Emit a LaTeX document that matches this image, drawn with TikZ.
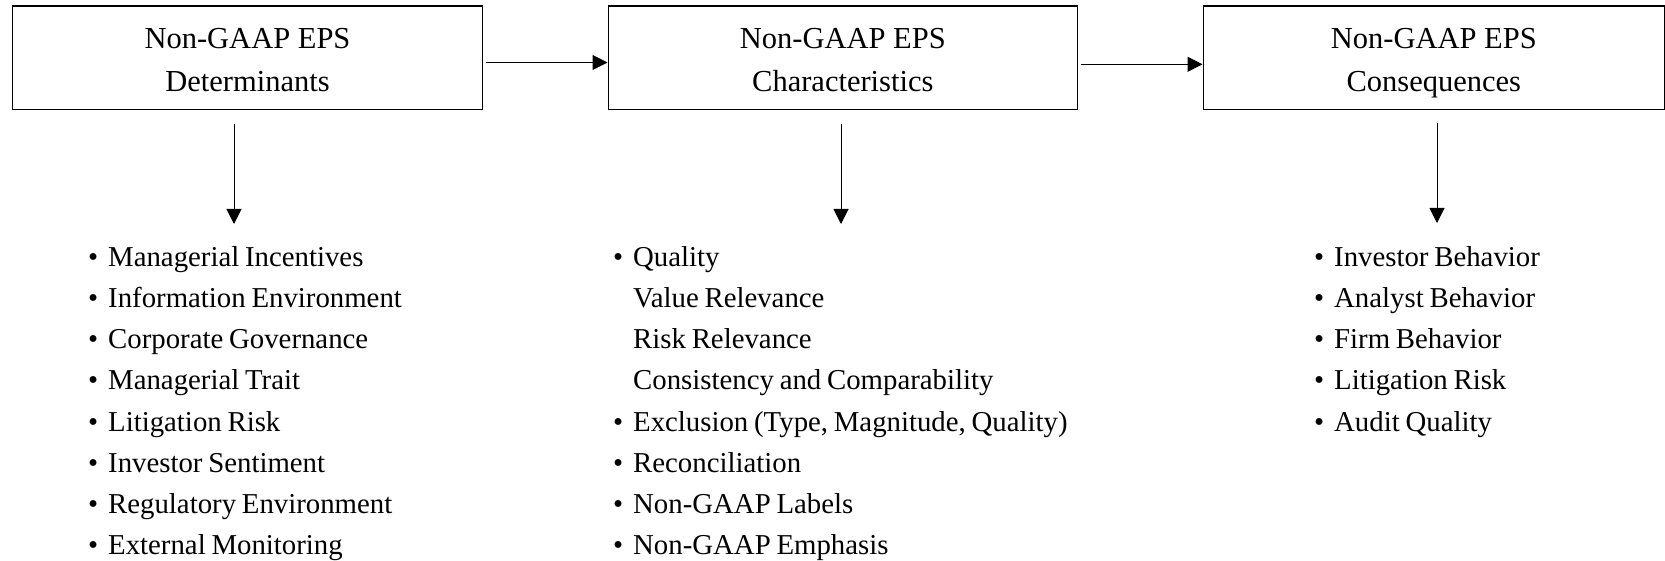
\documentclass[tikz,border=0pt]{standalone}
\usepackage{fontspec}
\setmainfont{Liberation Serif}
\newfontfamily\listfont[WordSpace=0.8]{Liberation Serif}
\usetikzlibrary{arrows.meta}
\begin{document}
\begin{tikzpicture}[x=1pt,y=-1pt,
  box/.style={draw,line width=1.6pt,inner sep=0pt,align=center,
    text height=68pt,text depth=0pt,
    font=\fontsize{30.5}{43}\selectfont},
  arr/.style={line width=1pt,-{Triangle[length=15pt,width=15pt]}},
  item/.style={inner sep=0pt,anchor=base west,font=\listfont\fontsize{28.8}{41}\selectfont}]
\useasboundingbox (0,0) rectangle (1665,561);
% boxes
\node[box,minimum width=470pt,minimum height=103.5pt] (b1) at (247.5,57.75) {Non-GAAP EPS\\Determinants};
\node[box,minimum width=469pt,minimum height=103.5pt] (b2) at (842.8,57.75) {Non-GAAP EPS\\Characteristics};
\node[box,minimum width=461pt,minimum height=103.5pt] (b3) at (1433.8,57.75) {Non-GAAP EPS\\Consequences};
% horizontal arrows
\coordinate (h1s) at (486,62.5);
\coordinate (h2s) at (1080.7,64.3);
\draw[arr] (h1s) -- (b2.west |- h1s);
\draw[arr] (h2s) -- (b3.west |- h2s);
% vertical arrows
\coordinate (v1s) at (234,124);  \coordinate (v1e) at (234,224);
\coordinate (v2s) at (841,124);  \coordinate (v2e) at (841,224);
\coordinate (v3s) at (1437,123); \coordinate (v3e) at (1437,223);
\draw[arr] (v1s) -- (v1e);
\draw[arr] (v2s) -- (v2e);
\draw[arr] (v3s) -- (v3e);
% lists
\foreach \t [count=\i] in {Managerial Incentives,Information Environment,Corporate Governance,Managerial Trait,Litigation Risk,Investor Sentiment,Regulatory Environment,External Monitoring}
  \node[item] (l\i) at (88,{266.5+41.15*(\i-1)}) {\makebox[20pt][l]{•}\t};
\foreach \t/\b [count=\i] in {Quality/1,Value Relevance/0,Risk Relevance/0,Consistency and Comparability/0,{Exclusion (Type, Magnitude, Quality)}/1,Reconciliation/1,Non-GAAP Labels/1,Non-GAAP Emphasis/1}
  \node[item] (m\i) at (613,{266.5+41.15*(\i-1)}) {\makebox[20pt][l]{\ifnum\b=1 •\fi}\t};
\foreach \t [count=\i] in {Investor Behavior,Analyst Behavior,Firm Behavior,Litigation Risk,Audit Quality}
  \node[item] (r\i) at (1314,{266.5+41.15*(\i-1)}) {\makebox[20pt][l]{•}\t};
\end{tikzpicture}
\end{document}
